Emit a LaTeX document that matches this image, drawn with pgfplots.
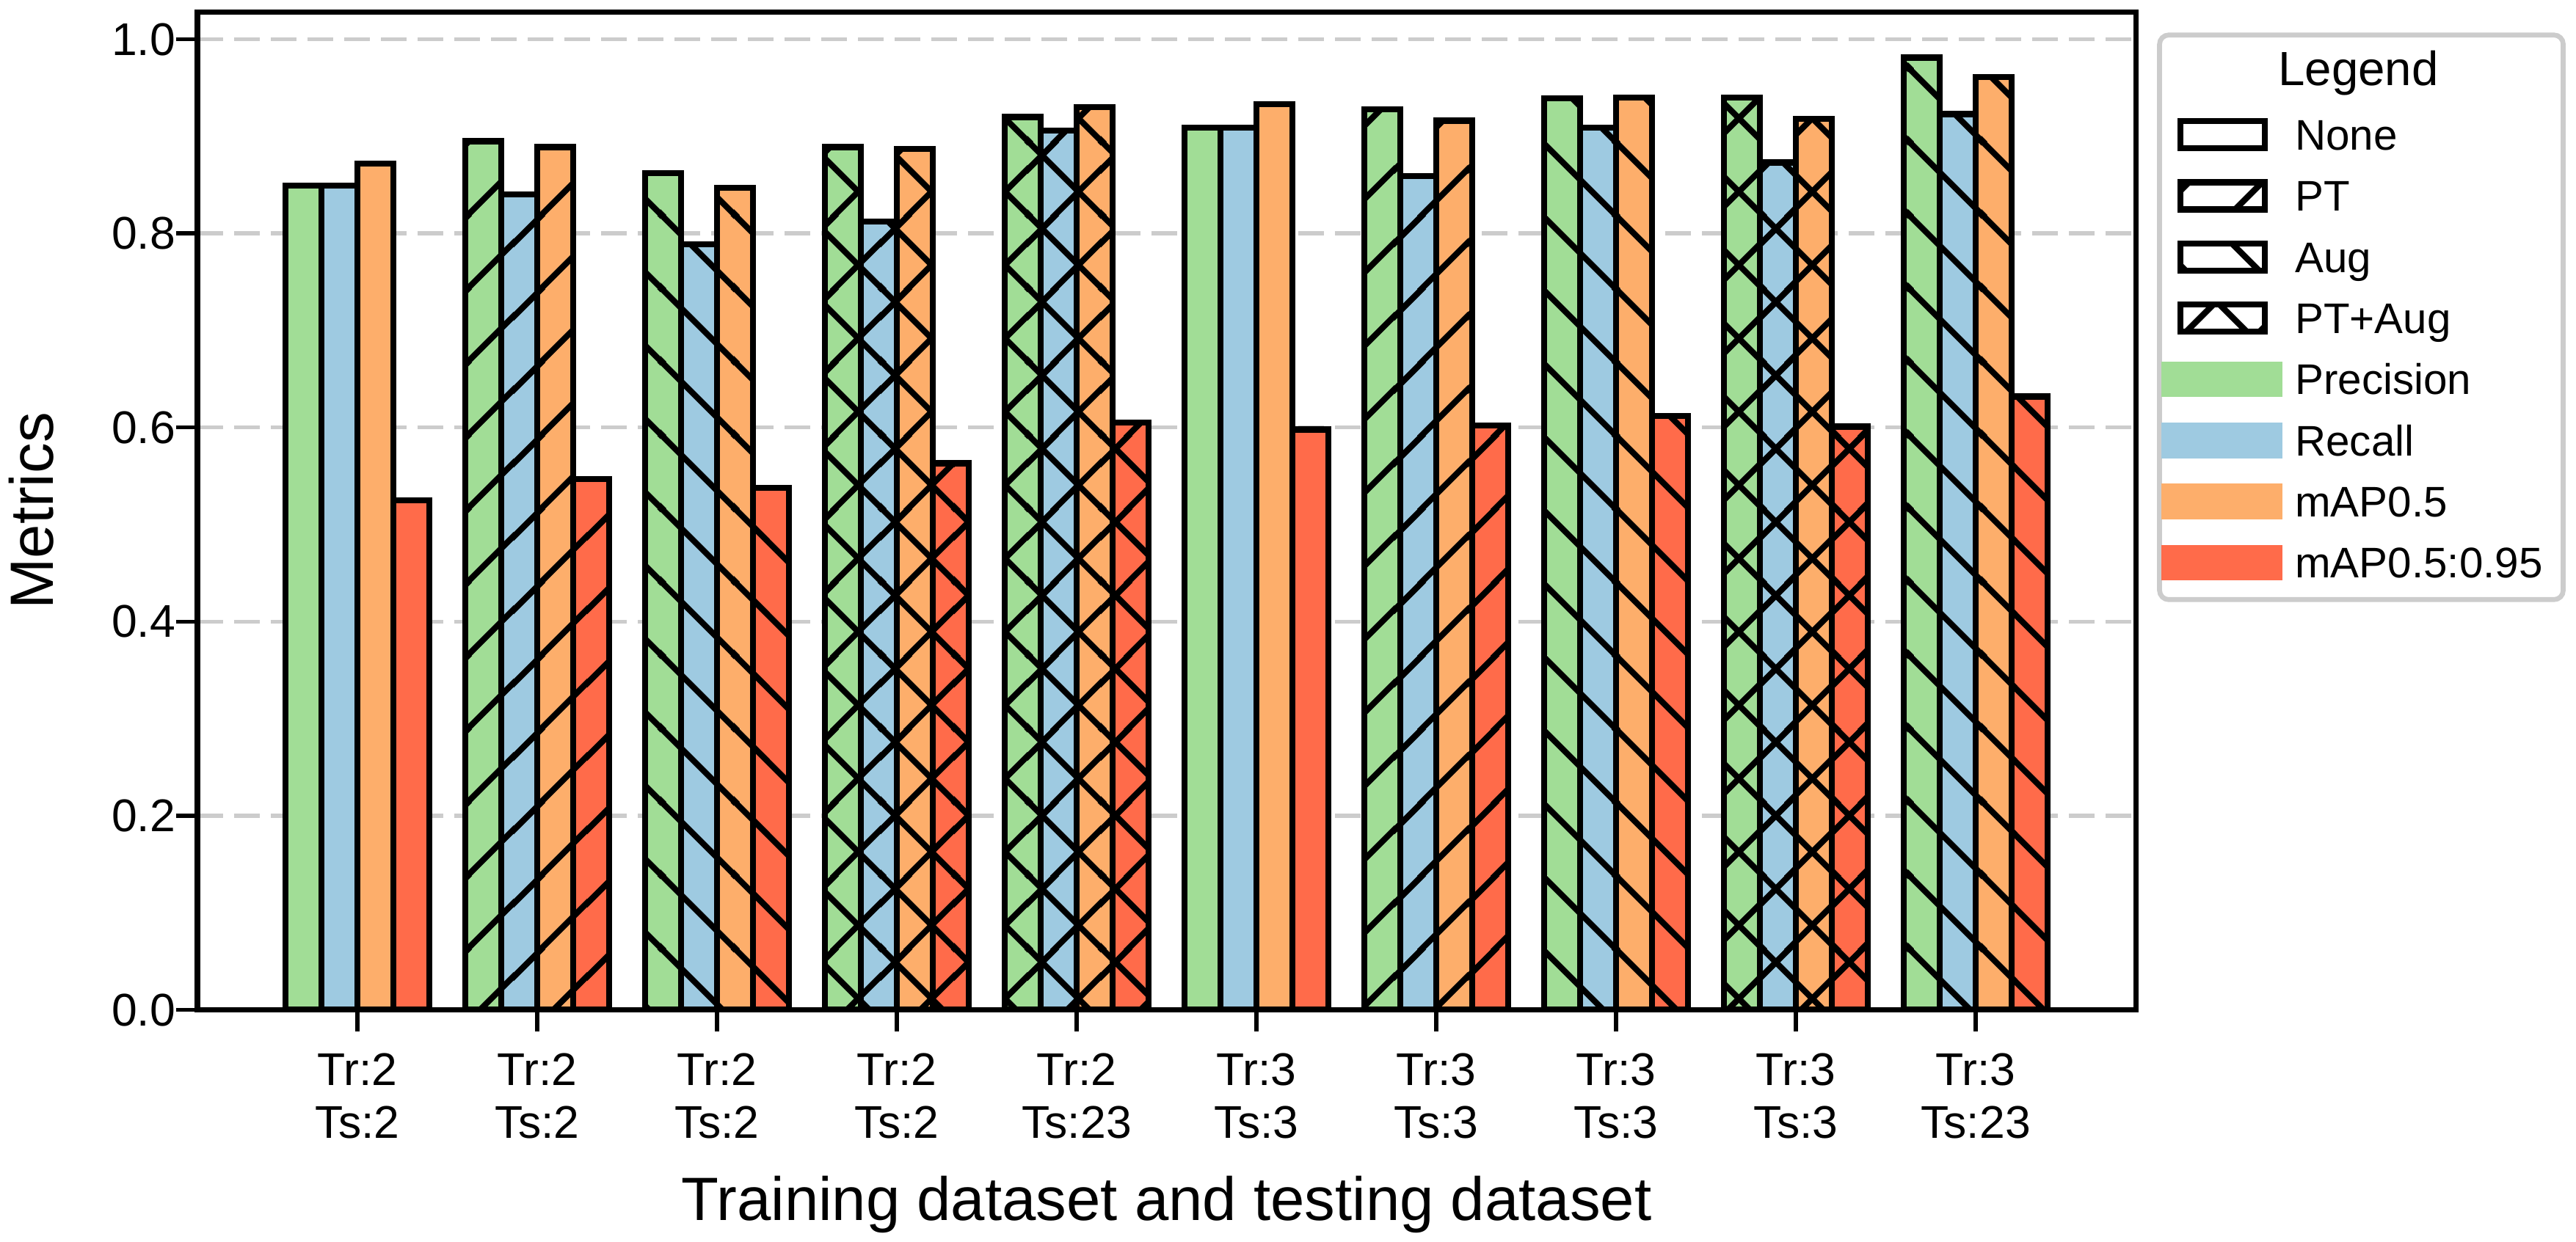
\documentclass[border=0pt]{standalone}
\usepackage{fontspec}
\setmainfont{Liberation Sans}
\usepackage{pgfplots}
\usepackage{pgfplotstable}
\pgfplotsset{compat=1.18}
\usetikzlibrary{patterns}

\definecolor{cP}{RGB}{161,221,150}
\definecolor{cR}{RGB}{158,202,225}
\definecolor{cM}{RGB}{253,174,107}
\definecolor{cQ}{RGB}{255,107,74}
\definecolor{gridgray}{RGB}{204,204,204}

% hatch patterns (tile = 24pt)
\pgfdeclarepatternformonly{hNE}{\pgfqpoint{0pt}{0pt}}{\pgfqpoint{24pt}{24pt}}{\pgfqpoint{24pt}{24pt}}{%
  \pgfsetlinewidth{2pt}%
  \pgfpathmoveto{\pgfqpoint{-2pt}{12.88pt}}\pgfpathlineto{\pgfqpoint{26pt}{40.88pt}}%
  \pgfpathmoveto{\pgfqpoint{-2pt}{-11.12pt}}\pgfpathlineto{\pgfqpoint{26pt}{16.88pt}}%
  \pgfusepath{stroke}}
\pgfdeclarepatternformonly{hNW}{\pgfqpoint{0pt}{0pt}}{\pgfqpoint{24pt}{24pt}}{\pgfqpoint{24pt}{24pt}}{%
  \pgfsetlinewidth{2pt}%
  \pgfpathmoveto{\pgfqpoint{-2pt}{2.5pt}}\pgfpathlineto{\pgfqpoint{26pt}{-25.5pt}}%
  \pgfpathmoveto{\pgfqpoint{-2pt}{26.5pt}}\pgfpathlineto{\pgfqpoint{26pt}{-1.5pt}}%
  \pgfpathmoveto{\pgfqpoint{-2pt}{50.5pt}}\pgfpathlineto{\pgfqpoint{26pt}{22.5pt}}%
  \pgfusepath{stroke}}
\pgfdeclarepatternformonly{hX}{\pgfqpoint{0pt}{0pt}}{\pgfqpoint{24pt}{24pt}}{\pgfqpoint{24pt}{24pt}}{%
  \pgfsetlinewidth{2pt}%
  \pgfpathmoveto{\pgfqpoint{-2pt}{12.88pt}}\pgfpathlineto{\pgfqpoint{26pt}{40.88pt}}%
  \pgfpathmoveto{\pgfqpoint{-2pt}{-11.12pt}}\pgfpathlineto{\pgfqpoint{26pt}{16.88pt}}%
  \pgfpathmoveto{\pgfqpoint{-2pt}{2.5pt}}\pgfpathlineto{\pgfqpoint{26pt}{-25.5pt}}%
  \pgfpathmoveto{\pgfqpoint{-2pt}{26.5pt}}\pgfpathlineto{\pgfqpoint{26pt}{-1.5pt}}%
  \pgfpathmoveto{\pgfqpoint{-2pt}{50.5pt}}\pgfpathlineto{\pgfqpoint{26pt}{22.5pt}}%
  \pgfusepath{stroke}}

% h: 0 = None, 1 = PT, 2 = Aug, 3 = PT+Aug
\pgfplotstableread{
g P     R     M     Q     h
0 0.849 0.849 0.872 0.525 0
1 0.895 0.840 0.889 0.547 1
2 0.862 0.789 0.847 0.538 2
3 0.889 0.812 0.887 0.563 3
4 0.920 0.906 0.930 0.605 3
5 0.909 0.909 0.933 0.598 0
6 0.928 0.859 0.916 0.602 1
7 0.939 0.909 0.940 0.612 2
8 0.940 0.873 0.918 0.601 3
9 0.981 0.923 0.961 0.632 2
}\datatable

\pgfplotsset{
  barbase/.style={ybar, bar width=0.2, bar shift=0pt, draw=black, line width=2pt, forget plot},
  hatchbar/.style={barbase, pattern color=black, restrict y to domain=0:2},
}

% #1 column, #2 offset, #3 colour
\newcommand{\metricbars}[3]{%
  \addplot[barbase, fill=#3] table[x expr=\thisrow{g}+(#2), y=#1]{\datatable};
  \addplot[hatchbar, pattern=hNE] table[x expr=\thisrow{g}+(#2), y expr={\thisrow{h}==1 ? \thisrow{#1} : -1}]{\datatable};
  \addplot[hatchbar, pattern=hNW] table[x expr=\thisrow{g}+(#2), y expr={\thisrow{h}==2 ? \thisrow{#1} : -1}]{\datatable};
  \addplot[hatchbar, pattern=hX] table[x expr=\thisrow{g}+(#2), y expr={\thisrow{h}==3 ? \thisrow{#1} : -1}]{\datatable};
}

\begin{document}
\begin{tikzpicture}
\useasboundingbox (-64.56pt,-75.96pt) rectangle (777.84pt,330.36pt);
\begin{axis}[
  at={(0,0)}, anchor=south west,
  scale only axis, width=633.84pt, height=326.4pt,
  xmin=-0.89, xmax=9.89, ymin=0, ymax=1.028,
  xtick={0,1,2,3,4,5,6,7,8,9},
  xticklabels={{Tr:2\\Ts:2},{Tr:2\\Ts:2},{Tr:2\\Ts:2},{Tr:2\\Ts:2},{Tr:2\\Ts:23},{Tr:3\\Ts:3},{Tr:3\\Ts:3},{Tr:3\\Ts:3},{Tr:3\\Ts:3},{Tr:3\\Ts:23}},
  ytick={0,0.2,0.4,0.6,0.8,1},
  yticklabels={0.0,0.2,0.4,0.6,0.8,1.0},
  tick align=outside, tick pos=left, major tick length=7pt,
  tick style={line width=1.3pt, black},
  axis line style={line width=1.7pt},
  ymajorgrids,
  grid style={gridgray, line width=1.3pt, dash pattern=on 8.4pt off 3.6pt},
  ticklabel style={font=\fontsize{15}{17.35}\selectfont},
  xticklabel style={align=center, anchor=north, inner sep=0pt, yshift=-7pt},
  yticklabel style={anchor=east, inner sep=0pt},
  xlabel={Training dataset and testing dataset},
  ylabel={Metrics},
  label style={font=\fontsize{20}{24}\selectfont},
  xlabel style={at={(axis description cs:0.5,-0.2108)}, anchor=base},
  ylabel style={at={(axis description cs:-0.0743,0.5)}, anchor=base},
  legend style={
    at={(1,1)}, anchor=north west, xshift=7pt, yshift=-6.7pt,
    draw=gridgray, line width=1.6pt, rounded corners=3pt, fill=white,
    inner xsep=0.65pt, inner ysep=3.6pt,
    row sep=2.5pt,
    font=\fontsize{14}{16}\selectfont,
    cells={anchor=base west, inner sep=0pt, text height=12pt, text depth=3pt, text width=85pt, align=left},
    /tikz/every odd column/.append style={column sep=2.2pt},
  },
]
\metricbars{P}{-0.3}{cP}
\metricbars{R}{-0.1}{cR}
\metricbars{M}{0.1}{cM}
\metricbars{Q}{0.3}{cQ}

\addlegendimage{empty legend}
\addlegendentry{\raisebox{1pt}{\fontsize{15.7}{18}\selectfont\hspace*{-5.5pt}Legend}}
\addlegendimage{legend image code/.code={\draw[sharp corners, line width=2pt, fill=white] (5.4pt,0.55pt) rectangle (32.9pt,9.45pt);}}
\addlegendentry{None}
\addlegendimage{legend image code/.code={\draw[sharp corners, line width=2pt, pattern=hNE, pattern color=black] (5.4pt,0.55pt) rectangle (32.9pt,9.45pt);}}
\addlegendentry{PT}
\addlegendimage{legend image code/.code={\draw[sharp corners, line width=2pt, pattern=hNW, pattern color=black] (5.4pt,0.55pt) rectangle (32.9pt,9.45pt);}}
\addlegendentry{Aug}
\addlegendimage{legend image code/.code={\draw[sharp corners, line width=2pt, pattern=hX, pattern color=black] (5.4pt,0.55pt) rectangle (32.9pt,9.45pt);}}
\addlegendentry{PT+Aug}
\addlegendimage{legend image code/.code={\fill[sharp corners, cP] (0pt,-0.05pt) rectangle (37.9pt,10.05pt);}}
\addlegendentry{Precision}
\addlegendimage{legend image code/.code={\fill[sharp corners, cR] (0pt,-0.05pt) rectangle (37.9pt,10.05pt);}}
\addlegendentry{Recall}
\addlegendimage{legend image code/.code={\fill[sharp corners, cM] (0pt,-0.05pt) rectangle (37.9pt,10.05pt);}}
\addlegendentry{mAP0.5}
\addlegendimage{legend image code/.code={\fill[sharp corners, cQ] (0pt,-0.05pt) rectangle (37.9pt,10.05pt);}}
\addlegendentry{mAP0.5:0.95}
\end{axis}
\end{tikzpicture}
\end{document}
